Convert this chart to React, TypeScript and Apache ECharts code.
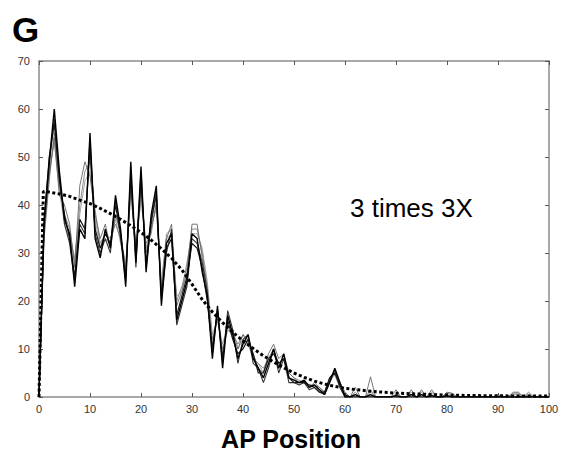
import React, { useEffect, useRef } from "react";
import * as echarts from "echarts";

const xTicks = [0, 10, 20, 30, 40, 50, 60, 70, 80, 90, 100];
const yTicks = [0, 10, 20, 30, 40, 50, 60, 70];

// profiles sampled at AP positions 0..100 (index = position)
const dark1 = [0,37,49,60,47,37,34,23,35,33, 55,33,29,35,31,42,35,23,49,28, 48,26,38,44,19,32,34,16,20,24, 34,33,26,21,8,19,6,17,13,8, 11,13,8,6,4,7,10,6,9,4, 3.5,3,3.5,2,2.5,1.5,0.5,3,6,3, 0,0,0.5,0,0,0.5,0,0,0,0, 0.3,0,0,0.5,0,0.5,0,0.3,0,0, 0.3,0,0,0,0,0,0,0,0,0, 0,0,0,0,0,0,0,0,0,0, 0];
const dark2 = [0,36,50,57,45,38,33,25,37,35, 52,35,31,34,32,40,34,25,46,29, 45,28,37,42,21,31,33,17,21,25, 32,31,27,20,10,18,8,16,12,9, 10,12,9,5,5,8,9,7,8,4, 3,3,3,2.5,2,1,1,4,5,2.5, 0.5,0,0,0,0,0,0,0,0,0, 0,0,0,0,0,0,0,0,0,0, 0,0,0,0,0,0,0,0,0,0, 0,0,0,0,0,0,0,0,0,0, 0];
const dark3 = [0,35,48,58,46,36,32,24,36,34, 54,34,30,33,30,41,33,24,47,27, 47,27,36,43,20,30,35,15,19,23, 33,32,28,22,9,18,7,18,14,7, 12,13,7,6,3,6,10,5,8,3, 3,2.5,3,1.5,2,1,0.5,3.5,5.5,2, 0,0,0,0,0,0,0,0,0,0, 0,0,0,0,0,0,0,0,0,0, 0,0,0,0,0,0,0,0,0,0, 0,0,0,0,0,0,0,0,0,0, 0];
const gray1 = [0,34,46,54,42,40,36,27,44,49, 46,38,33,36,31,38,34,27,44,31, 44,30,35,40,22,33,36,19,22,26, 36,36,29,22,11,17,9,15,14,10, 13,11,9,6,5,9,11,8,9,5, 4,3,3.5,2.5,2.5,2,1,4,5.5,3, 1,0,2,0,0,4.2,0,0,0,0, 1.5,0,0,1.5,0,1.5,0,1.5,0,0, 1,0.8,0,0,0,0,0,0,0,0, 0.5,0,0,1,1,0,1,0,0,0, 0];
const gray2 = [0,33,45,55,44,38,35,28,40,47, 49,39,32,34,33,36,33,26,43,30, 42,32,34,41,23,34,35,20,23,27, 35,35,30,23,12,16,10,14,13,11, 13,12,8,7,6,8,10,7,8,5, 4,3.5,3,2,3,2,1,3,5,2, 0.5,0,1,0,0,1.5,0,0,0,0, 0.5,0,0,1,0,1,0,1,0,0, 0.8,0.5,0,0,0,0,0,0,0,0, 0,0,0,0.8,0.8,0,0.5,0,0,0, 0];
const gray3 = [0,35,47,53,43,36,33,29,38,45, 47,37,31,33,32,37,32,28,42,32, 41,31,36,39,24,33,34,21,22,28, 34,34,31,24,13,16,11,15,12,10, 12,11,8,7,5,8,9,7,8,4, 3.5,3,3,2,2.5,1.5,1,4,4.5,2, 0,0,0.5,0,0,1,0,0,0,0, 0.5,0,0,0.5,0,0.5,0,0.5,0,0, 0.5,0,0,0,0,0,0,0,0,0, 0,0,0,0.5,0.5,0,0,0,0,0, 0];

// fitted curve
const fitX = [0, 0.4, 0.85, 2, 4, 6, 8, 10, 12, 14, 16, 18, 20, 22, 24, 26, 28, 30, 32, 34, 36, 38, 40, 42, 44, 46, 48, 50, 52, 54, 56, 58, 60, 65, 70, 75, 80, 85, 90, 95, 100];
const fitY = [0, 20, 42.8, 42.7, 42.3, 41.8, 41, 40.3, 39.3, 38.2, 37, 35.7, 34.3, 32.7, 30.9, 28.9, 26.5, 23.5, 20.3, 17.7, 15.5, 13.5, 11.7, 10.1, 8.6, 7.3, 6.1, 5, 4.1, 3.3, 2.7, 2.2, 1.8, 1.2, 0.8, 0.6, 0.4, 0.3, 0.25, 0.2, 0.2];

const profiles = [
  { data: gray3, color: "#9a9a9a", width: 0.9 },
  { data: gray2, color: "#808080", width: 0.9 },
  { data: gray1, color: "#666666", width: 0.9 },
  { data: dark3, color: "#333333", width: 1.1 },
  { data: dark2, color: "#1a1a1a", width: 1.2 },
  { data: dark1, color: "#000000", width: 1.4 },
];

export default function App() {
  const ref = useRef<HTMLDivElement>(null);
  useEffect(() => {
    if (!ref.current) return;
    const chart = echarts.init(ref.current, undefined, { renderer: "svg" });
    const font = "Liberation Sans, Arial, Helvetica, sans-serif";
    const axisCommon = {
      type: "value" as const,
      axisLine: { show: true, onZero: false, lineStyle: { color: "#8c8c8c", width: 1.5 } },
      axisTick: { show: true, inside: true, length: 4, lineStyle: { color: "#555", width: 1 } },
      splitLine: { show: false },
    };
    const series: any[] = profiles.map((p, i) => ({
      type: "line",
      name: "p" + i,
      data: p.data.map((v, k) => [k, v]),
      showSymbol: false,
      symbol: "none",
      lineStyle: { color: p.color, width: p.width },
      silent: true,
    }));
    series.push({
      type: "line",
      name: "fit",
      data: fitX.map((x, k) => [x, fitY[k]]),
      showSymbol: false,
      symbol: "none",
      smooth: false,
      lineStyle: { color: "#000", width: 3, type: [3, 2.5] },
      z: 5,
    });
    chart.setOption({
      animation: false,
      backgroundColor: "#fff",
      grid: { left: 39, right: 22, top: 61, bottom: 64, containLabel: false },
      xAxis: [
        {
          ...axisCommon,
          min: 0,
          max: 100,
          interval: 10,
          position: "bottom",
          axisLabel: {
            color: "#333",
            fontSize: 11,
            fontFamily: font,
            margin: 6,
            formatter: (v: number) => (xTicks.includes(v) ? String(v) : ""),
          },
        },
        {
          ...axisCommon,
          min: 0,
          max: 100,
          interval: 10,
          position: "top",
          axisLabel: { show: false },
        },
      ],
      yAxis: [
        {
          ...axisCommon,
          min: 0,
          max: 70,
          interval: 10,
          position: "left",
          axisLabel: {
            color: "#333",
            fontSize: 11,
            fontFamily: font,
            margin: 9,
            formatter: (v: number) => (yTicks.includes(v) ? String(v) : ""),
          },
        },
        {
          ...axisCommon,
          min: 0,
          max: 70,
          interval: 10,
          position: "right",
          axisLabel: { show: false },
        },
      ],
      series,
      graphic: [
        {
          type: "text",
          left: 12,
          top: 12,
          style: { text: "G", fontSize: 35, fontWeight: "bold", fontFamily: font, fill: "#000" },
        },
        {
          type: "text",
          x: 291,
          y: 439,
          style: {
            text: "AP Position",
            fontSize: 25,
            fontWeight: "bold",
            fontFamily: font,
            fill: "#000",
            textAlign: "center",
            textVerticalAlign: "middle",
          },
        },
        {
          type: "text",
          x: 350,
          y: 208,
          style: {
            text: "3 times 3X",
            fontSize: 26,
            fontFamily: font,
            fill: "#000",
            textAlign: "left",
            textVerticalAlign: "middle",
          },
        },
      ],
    });
    return () => chart.dispose();
  }, []);
  return (
    <div
      ref={ref}
      style={{ position: "fixed", left: 0, top: 0, width: 571, height: 461, background: "#fff" }}
    />
  );
}
